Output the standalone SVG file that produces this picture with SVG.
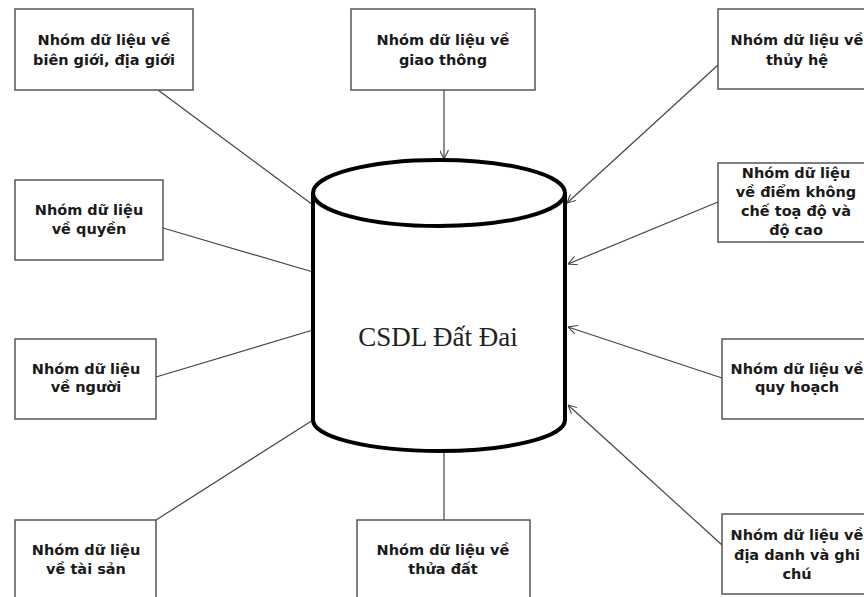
<svg xmlns="http://www.w3.org/2000/svg" width="864" height="597" viewBox="0 0 864 597">
<defs>
<style>
.box rect{fill:#fff;stroke:#555;stroke-width:1.5}
.box text{font-family:"DejaVu Sans",Verdana,sans-serif;font-weight:bold;font-size:14.5px;fill:#1a1a1a;text-anchor:middle}
.conn line{stroke:#444;stroke-width:1.2;fill:none}
.db{fill:#fff;stroke:#000;stroke-width:4}
</style>
<marker id="arr" viewBox="0 0 10 10" refX="10" refY="5" markerWidth="9" markerHeight="9" markerUnits="userSpaceOnUse" orient="auto">
<path d="M0,0 L10,5 L0,10" fill="none" stroke="#444" stroke-width="1.2"/>
</marker>
</defs>
<rect width="864" height="597" fill="#fff"/>

<g id="connectors" class="conn">
<line x1="158" y1="90" x2="313" y2="205"/>
<line x1="163" y1="228" x2="313" y2="272"/>
<line x1="156" y1="377" x2="313" y2="330"/>
<line x1="156" y1="520" x2="313" y2="420"/>
<line x1="444" y1="452" x2="444" y2="520"/>
<line x1="444" y1="90" x2="444" y2="159" marker-end="url(#arr)"/>
<line x1="718" y1="65" x2="567" y2="203" marker-end="url(#arr)"/>
<line x1="718" y1="202" x2="568" y2="264" marker-end="url(#arr)"/>
<line x1="722" y1="378" x2="568" y2="327" marker-end="url(#arr)"/>
<line x1="722" y1="545" x2="568" y2="405" marker-end="url(#arr)"/>
</g>

<g id="db">
<path class="db" d="M313,193 L313,420 A126,31 0 0 0 565,420 L565,193"/>
<ellipse class="db" cx="439" cy="193" rx="126" ry="33"/>
<text x="438" y="346" font-family="Liberation Serif,'Times New Roman',serif" font-size="27" fill="#222" text-anchor="middle">CSDL Đất Đai</text>
</g>

<g id="n-biengioi" class="box">
<rect x="15" y="9" width="178" height="81"/>
<text x="104" y="45">Nhóm dữ liệu về</text>
<text x="104" y="65">biên giới, địa giới</text>
</g>
<g id="n-giaothong" class="box">
<rect x="351" y="9" width="184" height="81"/>
<text x="443" y="45">Nhóm dữ liệu về</text>
<text x="443" y="65">giao thông</text>
</g>
<g id="n-thuyhe" class="box">
<rect x="718" y="9" width="160" height="80"/>
<text x="797" y="45">Nhóm dữ liệu về</text>
<text x="797" y="65">thủy hệ</text>
</g>
<g id="n-quyen" class="box">
<rect x="15" y="180" width="148" height="80"/>
<text x="89" y="215">Nhóm dữ liệu</text>
<text x="89" y="234">về quyền</text>
</g>
<g id="n-diemkhongche" class="box">
<rect x="718" y="163" width="160" height="79"/>
<text x="796" y="178">Nhóm dữ liệu</text>
<text x="796" y="197">về điểm không</text>
<text x="796" y="216">chế toạ độ và</text>
<text x="796" y="235">độ cao</text>
</g>
<g id="n-nguoi" class="box">
<rect x="15" y="339" width="141" height="80"/>
<text x="86" y="374">Nhóm dữ liệu</text>
<text x="86" y="392">về người</text>
</g>
<g id="n-quyhoach" class="box">
<rect x="722" y="339" width="156" height="80"/>
<text x="797" y="374">Nhóm dữ liệu về</text>
<text x="797" y="392">quy hoạch</text>
</g>
<g id="n-taisan" class="box">
<rect x="15" y="520" width="141" height="90"/>
<text x="86" y="555">Nhóm dữ liệu</text>
<text x="86" y="574">về tài sản</text>
</g>
<g id="n-thuadat" class="box">
<rect x="357" y="520" width="173" height="90"/>
<text x="443" y="555">Nhóm dữ liệu về</text>
<text x="443" y="574">thửa đất</text>
</g>
<g id="n-diadanh" class="box">
<rect x="722" y="514" width="156" height="80"/>
<text x="797" y="540">Nhóm dữ liệu về</text>
<text x="797" y="560">địa danh và ghi</text>
<text x="797" y="579">chú</text>
</g>
</svg>
